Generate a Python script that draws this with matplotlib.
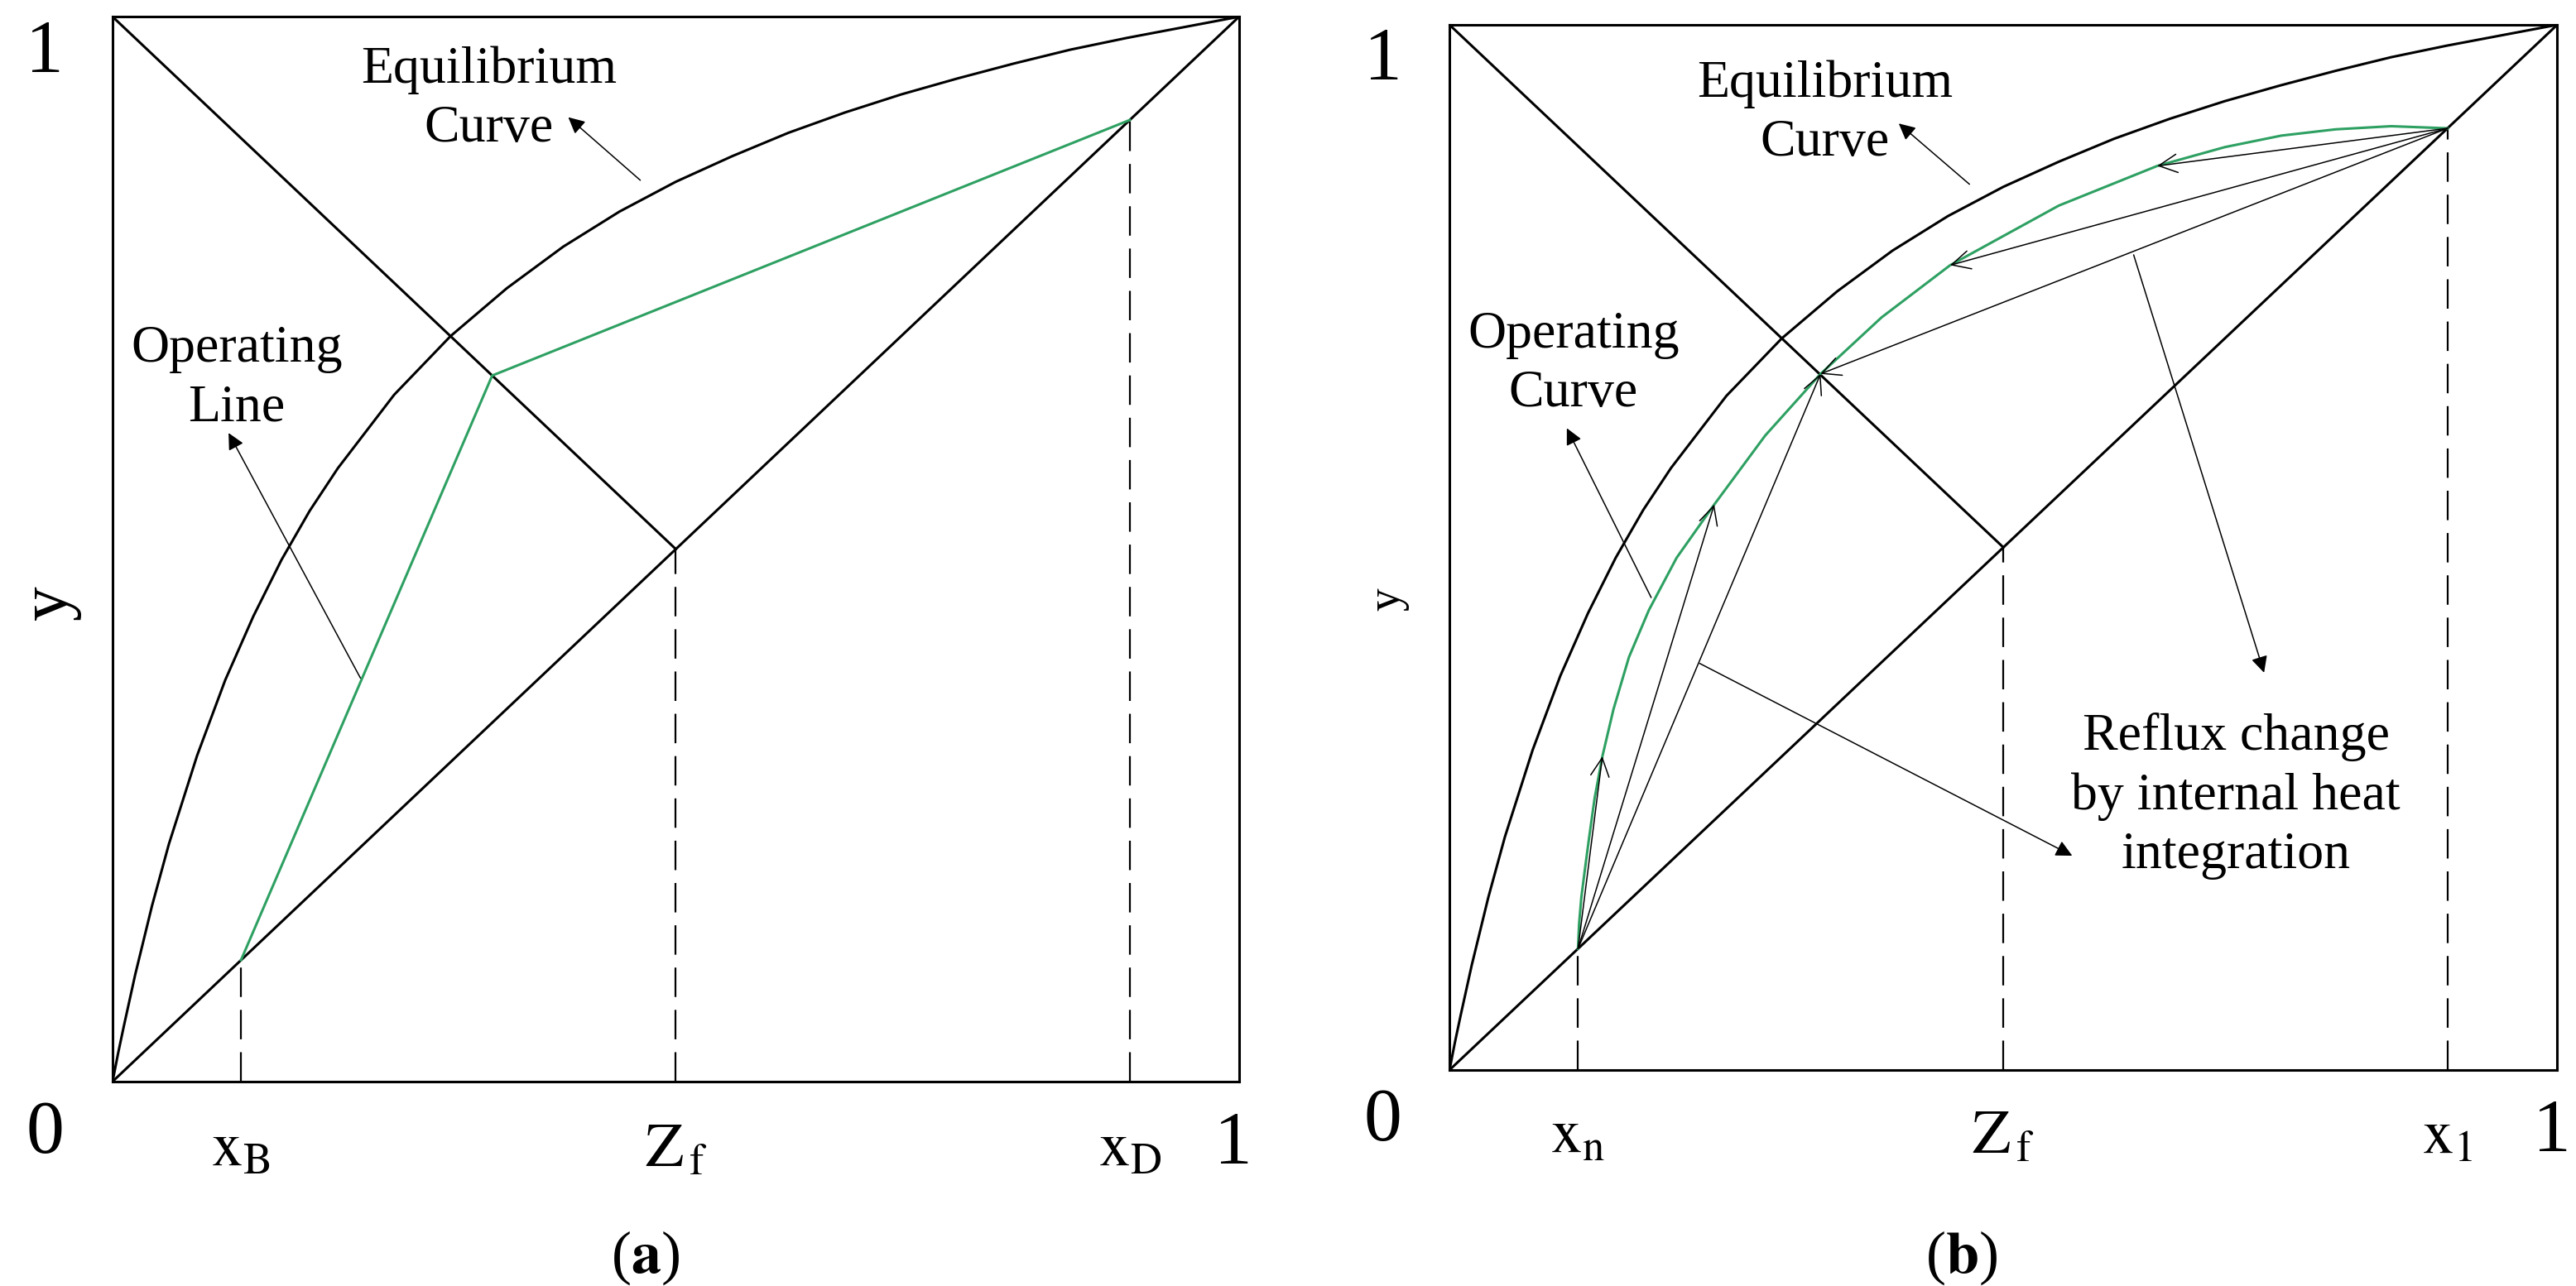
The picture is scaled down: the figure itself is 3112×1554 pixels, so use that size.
import matplotlib
matplotlib.use('Agg')
import matplotlib.pyplot as plt

plt.rcParams['font.family'] = 'Liberation Serif'
plt.rcParams['mathtext.fontset'] = 'stix'

# equilibrium curve (same in both panels)
eq_x = [0, 0.005, 0.01, 0.02, 0.035, 0.05, 0.075, 0.1, 0.125, 0.15, 0.175, 0.2, 0.25,
        0.3, 0.35, 0.4, 0.45, 0.5, 0.55, 0.6, 0.65, 0.7, 0.75, 0.8, 0.85, 0.9, 0.95, 1.0]
eq_y = [0, 0.027, 0.052, 0.10, 0.165, 0.223, 0.306, 0.377, 0.437, 0.49, 0.536, 0.576, 0.645,
        0.70, 0.745, 0.784, 0.817, 0.845, 0.869, 0.891, 0.91, 0.927, 0.942, 0.956, 0.969, 0.98, 0.99, 1.0]

# panel (a)
zf = 0.5
xb_a, xd_a = 0.114, 0.903
op_a_x = [0.114, 0.337, 0.903]
op_a_y = [0.114, 0.663, 0.903]

# panel (b)
xn_b, x1_b = 0.116, 0.901
op_b_x = [0.116, 0.117, 0.119, 0.122, 0.126, 0.131, 0.138, 0.148, 0.162, 0.18, 0.205,
          0.239, 0.285, 0.335, 0.39, 0.452, 0.55, 0.639, 0.70, 0.751, 0.80, 0.85, 0.901]
op_b_y = [0.116, 0.14, 0.165, 0.19, 0.222, 0.26, 0.30, 0.345, 0.395, 0.44, 0.49,
          0.541, 0.607, 0.666, 0.72, 0.77, 0.827, 0.865, 0.883, 0.894, 0.9, 0.903, 0.901]
fan_from_xn = [(0.138, 0.30), (0.239, 0.541), (0.335, 0.666)]
fan_from_x1 = [(0.335, 0.666), (0.452, 0.77), (0.639, 0.865)]

GREEN = '#2ea062'
LW = 2.2

fig = plt.figure(figsize=(31.12, 15.54), dpi=100)
ax_a = fig.add_axes([0.0437, 0.159, 0.4373, 0.828])
ax_b = fig.add_axes([0.5627, 0.168, 0.43, 0.8127])


def base(ax, xlo, xhi, lab_lo, lab_hi, ylsize):
  ax.set_xlim(0, 1)
  ax.set_ylim(0, 1)
  ax.set_xticks([])
  ax.set_yticks([])
  for s in ax.spines.values():
    s.set_linewidth(LW)
  ax.plot(eq_x, eq_y, color='black', lw=LW)
  ax.plot([0, 1], [0, 1], color='black', lw=LW)
  ax.plot([0, zf], [1, zf], color='black', lw=LW)
  for xv in [xlo, zf, xhi]:
    ax.plot([xv, xv], [0, xv], color='black', lw=1.6, ls=(0, (16, 7)))
  kw = dict(transform=ax.transAxes, ha='center', va='center', clip_on=False)
  ax.text(-0.06, 0.965, '1', fontsize=66, **kw)
  ax.text(-0.06, -0.05, '0', fontsize=66, **kw)
  ax.text(0.995, -0.06, '1', fontsize=66, **kw)
  ax.text(xlo, -0.065, lab_lo, fontsize=54, **kw)
  ax.text(zf, -0.065, r'$\mathrm{Z_{\,f}}$', fontsize=54, **kw)
  ax.text(xhi, -0.065, lab_hi, fontsize=54, **kw)
  ax.text(-0.056, 0.45, 'y', fontsize=ylsize, rotation=90, **kw)


def note(ax, txt, tx, ty, px, py, ax_, ay_, size=46):
  ax.text(tx, ty, txt, fontsize=size, ha='center', va='center', linespacing=1.3)
  ax.annotate('', xy=(ax_, ay_), xytext=(px, py),
              arrowprops=dict(arrowstyle='-|>', color='black', lw=1.1,
                              mutation_scale=30))


base(ax_a, xb_a, xd_a, r'$\mathrm{x_B}$', r'$\mathrm{x_D}$', 60)
ax_a.plot(op_a_x, op_a_y, color=GREEN, lw=LW)
note(ax_a, 'Equilibrium\nCurve', 0.334, 0.922, 0.47, 0.845, 0.403, 0.907)
note(ax_a, 'Operating\nLine', 0.11, 0.66, 0.221, 0.377, 0.102, 0.611)

base(ax_b, xn_b, x1_b, r'$\mathrm{x_n}$', r'$\mathrm{x_1}$', 40)
ax_b.plot(op_b_x, op_b_y, color=GREEN, lw=LW)
for (fx, fy) in fan_from_xn:
  ax_b.annotate('', xy=(fx, fy), xytext=(xn_b, xn_b),
                arrowprops=dict(arrowstyle='->', color='black', lw=1.1,
                                mutation_scale=40, shrinkA=0, shrinkB=0))
for (fx, fy) in fan_from_x1:
  ax_b.annotate('', xy=(fx, fy), xytext=(x1_b, x1_b),
                arrowprops=dict(arrowstyle='->', color='black', lw=1.1,
                                mutation_scale=40, shrinkA=0, shrinkB=0))
note(ax_b, 'Equilibrium\nCurve', 0.339, 0.915, 0.471, 0.846, 0.404, 0.907)
note(ax_b, 'Operating\nCurve', 0.112, 0.675, 0.183, 0.45, 0.105, 0.616)
note(ax_b, 'Reflux change\nby internal heat\nintegration', 0.71, 0.262, 0.617, 0.782, 0.736, 0.378)
ax_b.annotate('', xy=(0.564, 0.204), xytext=(0.224, 0.39),
              arrowprops=dict(arrowstyle='-|>', color='black', lw=1.1, mutation_scale=30))

fig.text(0.2506, 0.022, r'($\mathbf{a}$)', fontsize=52, ha='center', va='center')
fig.text(0.7615, 0.022, r'($\mathbf{b}$)', fontsize=52, ha='center', va='center')

fig.savefig('out.png', dpi=100)
